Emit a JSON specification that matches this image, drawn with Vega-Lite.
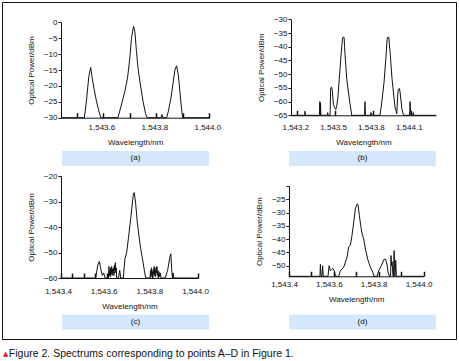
{
  "$schema": "https://vega.github.io/schema/vega-lite/v6.json",
  "width": 454,
  "height": 337,
  "autosize": {"type": "none"},
  "padding": {"left": 2, "top": 2, "right": 3, "bottom": 22},
  "background": "white",
  "view": {"stroke": "#111", "strokeWidth": 1},
  "title": {
    "text": "▲",
    "subtitle": "\u200b\u00a0\u00a0Figure 2. Spectrums corresponding to points A–D in Figure 1.",
    "orient": "bottom",
    "anchor": "start",
    "frame": "group",
    "offset": 10.5,
    "dx": 1,
    "color": "#d42027",
    "font": "DejaVu Sans",
    "fontSize": 7,
    "fontWeight": "normal",
    "subtitleColor": "#111",
    "subtitleFont": "Liberation Sans",
    "subtitleFontSize": 10.5,
    "subtitlePadding": -7.8
  },
  "config": {
    "font": "Liberation Sans",
    "axis": {
      "grid": false,
      "domainColor": "#111",
      "tickColor": "#111",
      "labelColor": "#111",
      "titleColor": "#111",
      "labelFont": "Liberation Sans",
      "titleFont": "Liberation Sans",
      "labelFontSize": 8,
      "titleFontSize": 8,
      "titleFontWeight": "normal",
      "labelOverlap": false,
      "labelFlush": false,
      "domainWidth": 1
    },
    "axisX": {"tickSize": -5, "tickWidth": 1.5, "titlePadding": 7},
    "axisY": {"tickSize": 3, "tickWidth": 1, "labelPadding": 1, "titlePadding": 8}
  },
  "resolve": {
    "scale": {"x": "independent", "y": "independent"},
    "axis": {"x": "independent", "y": "independent"}
  },
  "layer": [
    {
      "data": {"values": [
        {"wl": 1543.44, "p": -30}, {"wl": 1543.528, "p": -30}, {"wl": 1543.533, "p": -27}, {"wl": 1543.537, "p": -23.9},
        {"wl": 1543.545, "p": -17.1}, {"wl": 1543.552, "p": -14.2}, {"wl": 1543.558, "p": -17.6}, {"wl": 1543.565, "p": -21},
        {"wl": 1543.573, "p": -24.4}, {"wl": 1543.582, "p": -27.6}, {"wl": 1543.59, "p": -30}, {"wl": 1543.655, "p": -30},
        {"wl": 1543.668, "p": -26}, {"wl": 1543.681, "p": -21.8}, {"wl": 1543.691, "p": -17.6}, {"wl": 1543.7, "p": -11.3},
        {"wl": 1543.706, "p": -5}, {"wl": 1543.714, "p": -1.2}, {"wl": 1543.719, "p": -3}, {"wl": 1543.725, "p": -9.2},
        {"wl": 1543.731, "p": -14.5}, {"wl": 1543.74, "p": -19.7}, {"wl": 1543.75, "p": -25}, {"wl": 1543.759, "p": -28.6},
        {"wl": 1543.765, "p": -30}, {"wl": 1543.818, "p": -30}, {"wl": 1543.821, "p": -29}, {"wl": 1543.824, "p": -30},
        {"wl": 1543.839, "p": -30}, {"wl": 1543.845, "p": -28.1}, {"wl": 1543.855, "p": -23.9}, {"wl": 1543.864, "p": -18.7},
        {"wl": 1543.87, "p": -15}, {"wl": 1543.8765, "p": -13.7}, {"wl": 1543.883, "p": -16.6}, {"wl": 1543.889, "p": -21.8},
        {"wl": 1543.895, "p": -27}, {"wl": 1543.899, "p": -30}, {"wl": 1544.0, "p": -30}
      ]},
      "mark": {"type": "line", "color": "#111", "strokeWidth": 1},
      "encoding": {
        "x": {"field": "wl", "type": "quantitative",
          "scale": {"domain": [1543.44, 1544.0], "range": [59, 207.3], "nice": false, "zero": false},
          "axis": {"orient": "bottom", "offset": -221.3, "values": [1543.5, 1543.6, 1543.7, 1543.8, 1543.9, 1544.0],
            "format": ",.1f", "labelExpr": "abs(datum.value*5 - round(datum.value*5)) < 0.01 ? datum.label : ''",
            "labelPadding": 11, "labelOffset": -2, "title": "Wavelength/nm"}},
        "y": {"field": "p", "type": "quantitative",
          "scale": {"domain": [-30, 0], "range": [115.7, 20.3], "nice": false, "zero": false, "clamp": true},
          "axis": {"orient": "left", "offset": -59, "values": [0, -5, -10, -15, -20, -25, -30], "title": "Optical Power/dBm"}}
      }
    },
    {
      "data": {"values": [
        {"wl": 1543.15, "p": -65}, {"wl": 1543.258, "p": -65}, {"wl": 1543.261, "p": -63.5}, {"wl": 1543.264, "p": -65},
        {"wl": 1543.376, "p": -65}, {"wl": 1543.379, "p": -60}, {"wl": 1543.382, "p": -65}, {"wl": 1543.384, "p": -60.5},
        {"wl": 1543.387, "p": -65}, {"wl": 1543.438, "p": -65}, {"wl": 1543.441, "p": -64}, {"wl": 1543.444, "p": -65},
        {"wl": 1543.46, "p": -65}, {"wl": 1543.465, "p": -55}, {"wl": 1543.472, "p": -54.7}, {"wl": 1543.478, "p": -56},
        {"wl": 1543.486, "p": -61}, {"wl": 1543.494, "p": -62}, {"wl": 1543.505, "p": -62.9}, {"wl": 1543.513, "p": -61.5},
        {"wl": 1543.521, "p": -59}, {"wl": 1543.533, "p": -51.6}, {"wl": 1543.547, "p": -43.1}, {"wl": 1543.557, "p": -37.5},
        {"wl": 1543.561, "p": -36.6}, {"wl": 1543.571, "p": -36.6}, {"wl": 1543.575, "p": -40}, {"wl": 1543.579, "p": -43.1},
        {"wl": 1543.592, "p": -51.6}, {"wl": 1543.605, "p": -56.5}, {"wl": 1543.618, "p": -60.8}, {"wl": 1543.632, "p": -65},
        {"wl": 1543.734, "p": -65}, {"wl": 1543.737, "p": -60}, {"wl": 1543.74, "p": -65}, {"wl": 1543.782, "p": -65},
        {"wl": 1543.785, "p": -64}, {"wl": 1543.788, "p": -65}, {"wl": 1543.856, "p": -65}, {"wl": 1543.87, "p": -60.2},
        {"wl": 1543.888, "p": -52.9}, {"wl": 1543.902, "p": -44.4}, {"wl": 1543.912, "p": -37.5}, {"wl": 1543.916, "p": -36.6},
        {"wl": 1543.926, "p": -36.6}, {"wl": 1543.93, "p": -39}, {"wl": 1543.938, "p": -43.1}, {"wl": 1543.95, "p": -51},
        {"wl": 1543.962, "p": -56.5}, {"wl": 1543.975, "p": -62}, {"wl": 1543.989, "p": -64.5}, {"wl": 1543.996, "p": -58},
        {"wl": 1544.001, "p": -55.5}, {"wl": 1544.01, "p": -55.2}, {"wl": 1544.015, "p": -56.5}, {"wl": 1544.029, "p": -62.6},
        {"wl": 1544.042, "p": -65}, {"wl": 1544.091, "p": -65}, {"wl": 1544.094, "p": -60}, {"wl": 1544.097, "p": -62},
        {"wl": 1544.1, "p": -65}, {"wl": 1544.118, "p": -65}, {"wl": 1544.12, "p": -64}, {"wl": 1544.123, "p": -65},
        {"wl": 1544.3, "p": -65}
      ]},
      "mark": {"type": "line", "color": "#111", "strokeWidth": 1},
      "encoding": {
        "x": {"field": "wl", "type": "quantitative",
          "scale": {"domain": [1543.15, 1544.3], "range": [289, 434], "nice": false, "zero": false},
          "axis": {"orient": "bottom", "offset": -223.7, "values": [1543.2, 1543.5, 1543.8, 1544.1],
            "format": ",.1f", "labelPadding": 13.5, "labelOffset": -2, "title": "Wavelength/nm"}},
        "y": {"field": "p", "type": "quantitative",
          "scale": {"domain": [-65, -30], "range": [113.3, 17.3], "nice": false, "zero": false, "clamp": true},
          "axis": {"orient": "left", "offset": -289, "values": [-30, -35, -40, -45, -50, -55, -60, -65], "title": "Optical Power/dBm"}}
      }
    },
    {
      "data": {"values": [
        {"wl": 1543.4, "p": -60}, {"wl": 1543.552, "p": -60}, {"wl": 1543.561, "p": -55}, {"wl": 1543.568, "p": -53.5},
        {"wl": 1543.574, "p": -56.4}, {"wl": 1543.581, "p": -59}, {"wl": 1543.587, "p": -58}, {"wl": 1543.593, "p": -60},
        {"wl": 1543.604, "p": -60}, {"wl": 1543.606, "p": -58.5}, {"wl": 1543.608, "p": -60}, {"wl": 1543.61, "p": -55.5},
        {"wl": 1543.612, "p": -59}, {"wl": 1543.614, "p": -57}, {"wl": 1543.616, "p": -59.5}, {"wl": 1543.618, "p": -56},
        {"wl": 1543.62, "p": -58.5}, {"wl": 1543.622, "p": -55.5}, {"wl": 1543.624, "p": -59}, {"wl": 1543.626, "p": -56.5},
        {"wl": 1543.628, "p": -58}, {"wl": 1543.63, "p": -56}, {"wl": 1543.632, "p": -59}, {"wl": 1543.634, "p": -55},
        {"wl": 1543.636, "p": -57}, {"wl": 1543.638, "p": -54}, {"wl": 1543.64, "p": -58}, {"wl": 1543.642, "p": -56},
        {"wl": 1543.644, "p": -60}, {"wl": 1543.652, "p": -60}, {"wl": 1543.657, "p": -57}, {"wl": 1543.662, "p": -60},
        {"wl": 1543.673, "p": -60}, {"wl": 1543.68, "p": -52.4}, {"wl": 1543.688, "p": -49.8}, {"wl": 1543.695, "p": -44.6},
        {"wl": 1543.702, "p": -39.3}, {"wl": 1543.71, "p": -32.8}, {"wl": 1543.717, "p": -26.9}, {"wl": 1543.721, "p": -26.5},
        {"wl": 1543.727, "p": -30.9}, {"wl": 1543.734, "p": -38}, {"wl": 1543.742, "p": -43.9}, {"wl": 1543.749, "p": -48.5},
        {"wl": 1543.758, "p": -53.1}, {"wl": 1543.765, "p": -57}, {"wl": 1543.771, "p": -60}, {"wl": 1543.79, "p": -60},
        {"wl": 1543.792, "p": -57}, {"wl": 1543.794, "p": -59.5}, {"wl": 1543.796, "p": -56}, {"wl": 1543.798, "p": -59},
        {"wl": 1543.8, "p": -57.5}, {"wl": 1543.802, "p": -60}, {"wl": 1543.804, "p": -56.5}, {"wl": 1543.806, "p": -58.5},
        {"wl": 1543.808, "p": -55.5}, {"wl": 1543.81, "p": -59}, {"wl": 1543.812, "p": -57}, {"wl": 1543.814, "p": -59.5},
        {"wl": 1543.816, "p": -56}, {"wl": 1543.818, "p": -58}, {"wl": 1543.82, "p": -55.5}, {"wl": 1543.822, "p": -59},
        {"wl": 1543.824, "p": -57}, {"wl": 1543.826, "p": -60}, {"wl": 1543.829, "p": -57.5}, {"wl": 1543.832, "p": -59.5},
        {"wl": 1543.835, "p": -58}, {"wl": 1543.838, "p": -60}, {"wl": 1543.841, "p": -60}, {"wl": 1543.856, "p": -60},
        {"wl": 1543.867, "p": -57}, {"wl": 1543.876, "p": -52.2}, {"wl": 1543.881, "p": -50.5}, {"wl": 1543.885, "p": -57},
        {"wl": 1543.888, "p": -60}, {"wl": 1543.891, "p": -58}, {"wl": 1543.894, "p": -60}, {"wl": 1544.0, "p": -60}
      ]},
      "mark": {"type": "line", "color": "#111", "strokeWidth": 1},
      "encoding": {
        "x": {"field": "wl", "type": "quantitative",
          "scale": {"domain": [1543.4, 1544.0], "range": [59, 196], "nice": false, "zero": false},
          "axis": {"orient": "bottom", "offset": -61, "values": [1543.4, 1543.45, 1543.5, 1543.55, 1543.6, 1543.8, 1544.0],
            "format": ",.1f", "labelExpr": "abs(datum.value*5 - round(datum.value*5)) < 0.01 ? datum.label : ''",
            "labelPadding": 14.5, "labelOffset": -3, "title": "Wavelength/nm"}},
        "y": {"field": "p", "type": "quantitative",
          "scale": {"domain": [-60, -20], "range": [276, 174], "nice": false, "zero": false, "clamp": true},
          "axis": {"orient": "left", "offset": -59, "values": [-20, -30, -40, -50, -60], "title": "Optical Power/dBm"}}
      }
    },
    {
      "data": {"values": [
        {"wl": 1543.4, "p": -54}, {"wl": 1543.538, "p": -54}, {"wl": 1543.54, "p": -49.5}, {"wl": 1543.543, "p": -54},
        {"wl": 1543.547, "p": -54}, {"wl": 1543.55, "p": -50}, {"wl": 1543.553, "p": -54}, {"wl": 1543.574, "p": -54},
        {"wl": 1543.579, "p": -50}, {"wl": 1543.584, "p": -51.8}, {"wl": 1543.59, "p": -51.5}, {"wl": 1543.596, "p": -51},
        {"wl": 1543.602, "p": -52}, {"wl": 1543.607, "p": -54}, {"wl": 1543.622, "p": -54}, {"wl": 1543.629, "p": -51.9},
        {"wl": 1543.644, "p": -50.6}, {"wl": 1543.659, "p": -46.8}, {"wl": 1543.666, "p": -43}, {"wl": 1543.674, "p": -42.2},
        {"wl": 1543.681, "p": -38.6}, {"wl": 1543.689, "p": -33.6}, {"wl": 1543.696, "p": -28.6}, {"wl": 1543.704, "p": -26.7},
        {"wl": 1543.708, "p": -27}, {"wl": 1543.714, "p": -31.1}, {"wl": 1543.72, "p": -34.9}, {"wl": 1543.726, "p": -38},
        {"wl": 1543.733, "p": -39.9}, {"wl": 1543.741, "p": -43.7}, {"wl": 1543.751, "p": -47.5}, {"wl": 1543.763, "p": -50.6},
        {"wl": 1543.774, "p": -52.5}, {"wl": 1543.779, "p": -54}, {"wl": 1543.793, "p": -54}, {"wl": 1543.8, "p": -51.9},
        {"wl": 1543.812, "p": -50}, {"wl": 1543.823, "p": -47.7}, {"wl": 1543.83, "p": -47.5}, {"wl": 1543.837, "p": -49.4},
        {"wl": 1543.842, "p": -52.5}, {"wl": 1543.848, "p": -54}, {"wl": 1543.853, "p": -54}, {"wl": 1543.855, "p": -46.2},
        {"wl": 1543.858, "p": -50}, {"wl": 1543.86, "p": -48.5}, {"wl": 1543.864, "p": -54}, {"wl": 1543.866, "p": -54},
        {"wl": 1543.869, "p": -44.3}, {"wl": 1543.872, "p": -54}, {"wl": 1543.874, "p": -52}, {"wl": 1543.876, "p": -48},
        {"wl": 1543.879, "p": -54}, {"wl": 1544.0, "p": -54}
      ]},
      "mark": {"type": "line", "color": "#111", "strokeWidth": 1},
      "encoding": {
        "x": {"field": "wl", "type": "quantitative",
          "scale": {"domain": [1543.4, 1544.0], "range": [287, 421.5], "nice": false, "zero": false},
          "axis": {"orient": "bottom", "offset": -62.7, "values": [1543.4, 1543.5, 1543.6, 1543.7, 1543.8, 1543.9, 1544.0],
            "format": ",.1f", "labelExpr": "abs(datum.value*5 - round(datum.value*5)) < 0.01 ? datum.label : ''",
            "labelPadding": 9, "labelOffset": -5, "title": "Wavelength/nm"}},
        "y": {"field": "p", "type": "quantitative",
          "scale": {"domain": [-54, -20], "range": [274.3, 184], "nice": false, "zero": false, "clamp": true},
          "axis": {"orient": "left", "offset": -287, "values": [-20, -25, -30, -35, -40, -45, -50],
            "labelExpr": "datum.value == -20 ? '' : datum.label", "title": "Optical Power/dBm"}}
      }
    },
    {
      "data": {"name": "panels", "values": [
        {"panel": "(a)", "col": "left", "row": "top"},
        {"panel": "(b)", "col": "right", "row": "top"},
        {"panel": "(c)", "col": "left", "row": "bottom"},
        {"panel": "(d)", "col": "right", "row": "bottom"}
      ]},
      "mark": {"type": "rect", "color": "#d4e7fb"},
      "encoding": {
        "x": {"field": "col", "type": "nominal", "axis": null,
          "scale": {"type": "band", "domain": ["left", "right"], "range": [60, 434], "paddingInner": 0.3524, "paddingOuter": 0}},
        "y": {"field": "row", "type": "nominal", "axis": null,
          "scale": {"type": "band", "domain": ["top", "bottom"], "range": [149, 327.5], "paddingInner": 0.9085, "paddingOuter": 0}}
      }
    },
    {
      "data": {"name": "panels2", "values": [
        {"panel": "(a)", "col": "left", "row": "top"},
        {"panel": "(b)", "col": "right", "row": "top"},
        {"panel": "(c)", "col": "left", "row": "bottom"},
        {"panel": "(d)", "col": "right", "row": "bottom"}
      ]},
      "mark": {"type": "text", "fontSize": 8, "color": "#111", "font": "Liberation Sans", "baseline": "middle"},
      "encoding": {
        "x": {"field": "col", "type": "nominal", "axis": null,
          "scale": {"type": "band", "domain": ["left", "right"], "range": [60, 434], "paddingInner": 0.3524, "paddingOuter": 0}},
        "y": {"field": "row", "type": "nominal", "axis": null,
          "scale": {"type": "band", "domain": ["top", "bottom"], "range": [149, 327.5], "paddingInner": 0.9085, "paddingOuter": 0}},
        "text": {"field": "panel"}
      }
    }
  ]
}
